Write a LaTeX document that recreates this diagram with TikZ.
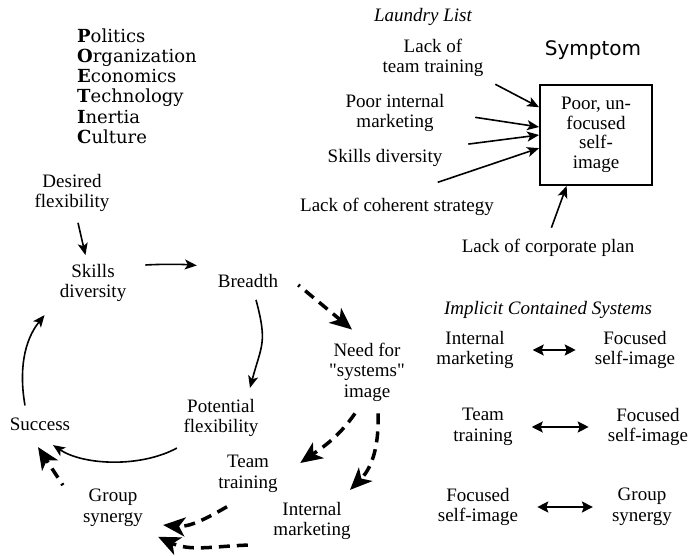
\documentclass[tikz,border=0pt]{standalone}
\usepackage{fontspec}
\setmainfont{Liberation Serif}
\newfontfamily\poeticfont{DejaVu Serif}
\newfontfamily\symptomfont{DejaVu Sans}
\newcommand\straightquote{\XeTeXglyph\XeTeXcharglyph"0022\relax}
\usetikzlibrary{arrows.meta}

\begin{document}
\begin{tikzpicture}[x=1pt, y=1pt,
    every node/.style={font=\fontsize{19}{20.5}\selectfont, align=center, inner sep=2pt},
    title/.style={font=\fontsize{19}{20.5}\selectfont\itshape},
    link/.style={line width=1.6pt, -{Stealth[length=12pt, width=10pt, inset=3pt]}},
    dashlink/.style={line width=3.5pt, dash pattern=on 11pt off 7pt, -{Stealth[length=22pt, width=19pt, inset=6pt]}},
    twoway/.style={line width=1.8pt, {Stealth[length=11pt, width=11pt, inset=2pt]}-{Stealth[length=11pt, width=11pt, inset=2pt]}, shorten <=17pt, shorten >=17pt}]
        \useasboundingbox (0,0) rectangle (691,556);

        % POETIC list
        \node[anchor=west, align=left, inner sep=0pt, font=\poeticfont\fontsize{18}{20.2}\selectfont] (poetic) at (77,470)
            {{\bfseries P}olitics\\{\bfseries O}rganization\\{\bfseries E}conomics\\{\bfseries T}echnology\\{\bfseries I}nertia\\{\bfseries C}ulture};

        % The cycle
        \node (desired) at (72,363) {Desired\\flexibility};
        \node (skills) at (93,273) {Skills\\diversity};
        \node (breadth) at (248,275) {Breadth};
        \node (potential) at (221,138) {Potential\\flexibility};
        \node (success) at (40,132) {Success};
        \node (need) at (367,184) {Need for\\\straightquote systems\straightquote\\image};
        \node (team) at (248,82) {Team\\training};
        \node (internal) at (312,35) {Internal\\marketing};
        \node (group) at (113,48) {Group\\synergy};

        \draw[link, shorten <=9pt, shorten >=7pt] ([xshift=4pt]desired.south) -- ([xshift=-6pt]skills.north);
        \draw[link, shorten <=17pt, shorten >=19pt] ([yshift=17pt]skills.east) to[bend left=4] ([yshift=14pt]breadth.west);
        \draw[link] ([xshift=8pt, yshift=-10pt]breadth.south) to[out=-75, in=75, looseness=1.3] ([xshift=29pt, yshift=9pt]potential.north);
        \draw[link] ([xshift=-4.5pt, yshift=-9pt]potential.south west) .. controls +(-37,-20) and +(30,-20) .. ([xshift=13pt, yshift=-12.5pt]success.south);
        \draw[link] ([xshift=-15pt, yshift=10pt]success.north) .. controls +(-6,34) and +(-21,-26) .. ([xshift=-13pt, yshift=-11pt]skills.south west);

        % Dashed flows
        \draw[dashlink, dash phase=9pt] ([xshift=18pt, yshift=-4pt]breadth.east) -- ([xshift=-15pt, yshift=11pt]need.north);
        \draw[dashlink] ([xshift=-12pt, yshift=-10pt]need.south) to[out=-125, in=35] ([xshift=20.5pt, yshift=11pt]team.east);
        \draw[dashlink] ([xshift=11pt, yshift=-10pt]need.south) to[out=-88, in=45] ([xshift=38pt, yshift=10pt]internal.north);
        \draw[dashlink] ([xshift=-21pt, yshift=-12pt]team.south) to[out=-150, in=-5] ([xshift=18pt, yshift=-17pt]group.east);
        \draw[dashlink] ([xshift=-23.5pt, yshift=-3pt]internal.south west) to[out=182, in=-25] ([xshift=13pt, yshift=-8pt]group.south east);
        \draw[dashlink, dash phase=9pt] ([xshift=-18pt, yshift=2pt]group.north west) -- ([xshift=-2pt, yshift=-14.5pt]success.south);

        % Laundry list and symptom
        \node[title] (laundry) at (423,539) {Laundry List};
        \node (lackteam) at (433,498) {Lack of\\team training};
        \node (poorint) at (395,443) {Poor internal\\marketing};
        \node (skillsdiv) at (385,398) {Skills diversity};
        \node (coherent) at (397,349) {Lack of coherent strategy};
        \node (corporate) at (548,308) {Lack of corporate plan};
        \node[font=\symptomfont\fontsize{20}{24}\selectfont] (symlabel) at (593,506) {Symptom};
        \node[draw, line width=1.8pt, minimum width=112pt, minimum height=100pt, font=\fontsize{19}{19.5}\selectfont] (symptom) at (596,421)
            {Poor, un-\\focused\\self-\\image};

        \draw[link, shorten <=11pt] (lackteam.south east) -- (symptom.154);
        \draw[link, shorten <=29pt] (poorint.east) -- (symptom.172);
        \draw[link, shorten <=24pt] (skillsdiv.north east) -- (symptom.west);
        \draw[link, shorten <=43pt] (coherent.north) -- (symptom.193);
        \draw[link, shorten <=10pt] (corporate.north) -- (symptom.240);

        % Implicit contained systems
        \node[title] (implicit) at (548,246) {Implicit Contained Systems};
        \node (im1) at (475,206) {Internal\\marketing};
        \node (fs1) at (635,206) {Focused\\self-image};
        \node (tt2) at (483,129) {Team\\training};
        \node (fs2) at (648,129) {Focused\\self-image};
        \node (fs3) at (478,49) {Focused\\self-image};
        \node (gs3) at (642,49) {Group\\synergy};
        \draw[twoway] (im1) -- (fs1);
        \draw[twoway] (tt2) -- (fs2);
        \draw[twoway] (fs3) -- (gs3);
    \end{tikzpicture}
\end{document}
